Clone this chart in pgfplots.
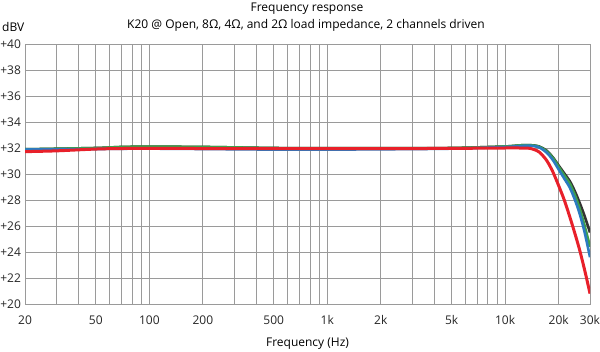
\documentclass[border=0pt]{standalone}
\usepackage{pgfplots}
\pgfplotsset{compat=1.18}
\usepackage{fontspec}
\setmainfont{Open Sans}
\definecolor{cred}{HTML}{E8202A}
\definecolor{cblue}{HTML}{2B7BC0}
\definecolor{cgreen}{HTML}{3DA04A}
\definecolor{cblack}{HTML}{333333}
\definecolor{cgrid}{HTML}{9A9A9A}
\begin{document}
\begin{tikzpicture}[x=1pt,y=1pt]
\path[use as bounding box] (-25,-47) rectangle (575,304);
\begin{axis}[at={(0,0)}, anchor=south west, scale only axis,
  width=565pt, height=260pt,
  xmode=log, xmin=20, xmax=30000, ymin=20, ymax=40,
  ytick={20,22,...,40},
  yticklabel={+\pgfmathprintnumber{\tick}},
  /pgf/number format/assume math mode=true,
  xtick={20,50,100,200,500,1000,2000,5000,10000,20000,30000},
  xticklabels={20,50,100,200,500,1k,2k,5k,10k,20k,30k},
  minor xtick={30,40,60,70,80,90,300,400,600,700,800,900,3000,4000,6000,7000,8000,9000},
  grid=both,
  major grid style={cgrid, line width=0.9pt},
  minor grid style={cgrid, line width=0.9pt},
  axis line style={cgrid, line width=0.9pt},
  major tick length=0pt, minor tick length=0pt,
  tick label style={font=\fontsize{12}{14}\selectfont, text=black!85},
  xticklabel style={yshift=-8pt},
  yticklabel style={xshift=-0.5pt},
]
\addplot[cblack, line width=2.6pt, smooth] coordinates {
(20,31.9) (50,32.0) (70,32.08) (100,32.1) (200,32.08) (500,32.0) (1000,31.98) (2000,31.98) (5000,32.0) (10000,32.12) (12000,32.2) (13800,32.22) (15500,32.12) (17100,31.8) (18500,31.3) (20000,30.65) (21500,30.05) (23100,29.45) (24700,28.65) (26300,27.75) (28000,26.75) (30000,25.5)};
\addplot[cgreen, line width=2.6pt, smooth] coordinates {
(20,31.9) (50,32.0) (70,32.08) (100,32.1) (200,32.08) (500,32.0) (1000,31.98) (2000,31.98) (5000,32.0) (10000,32.12) (12000,32.2) (13800,32.22) (15500,32.1) (17100,31.75) (18500,31.25) (20000,30.55) (21500,29.9) (23100,29.25) (24700,28.35) (26300,27.3) (28000,26.0) (30000,24.4)};
\addplot[cblue, line width=2.6pt, smooth] coordinates {
(20,31.88) (50,31.92) (100,31.95) (500,31.88) (1000,31.88) (2000,31.9) (5000,31.95) (10000,32.08) (12000,32.15) (13800,32.18) (15500,32.05) (17100,31.65) (18500,31.1) (20000,30.35) (21500,29.65) (23100,28.95) (24700,28.0) (26300,26.9) (28000,25.5) (30000,23.6)};
\addplot[cred, line width=3pt, smooth] coordinates {
(20,31.72) (30,31.78) (50,31.92) (70,31.96) (100,31.97) (200,31.96) (500,31.95) (1000,31.95) (2000,31.95) (5000,31.97) (10000,32.0) (12000,32.0) (13800,31.97) (15500,31.7) (17100,31.05) (18500,30.2) (20000,29.1) (21500,28.0) (23100,26.7) (24700,25.4) (26300,24.1) (28000,22.6) (29000,21.7) (30000,20.8)};
\end{axis}
\node[font=\fontsize{12}{14}\selectfont, anchor=base] at (282,292.5) {Frequency response};
\node[font=\fontsize{12}{14}\selectfont, anchor=base] at (281,275.5) {K20 @ Open, 8Ω, 4Ω, and 2Ω load impedance, 2 channels driven};
\node[font=\fontsize{12}{14}\selectfont, anchor=base west, inner sep=0pt] at (-23,272) {dBV};
\node[font=\fontsize{12}{14}\selectfont, anchor=base] at (282.5,-42.5) {Frequency (Hz)};
\end{tikzpicture}
\end{document}
